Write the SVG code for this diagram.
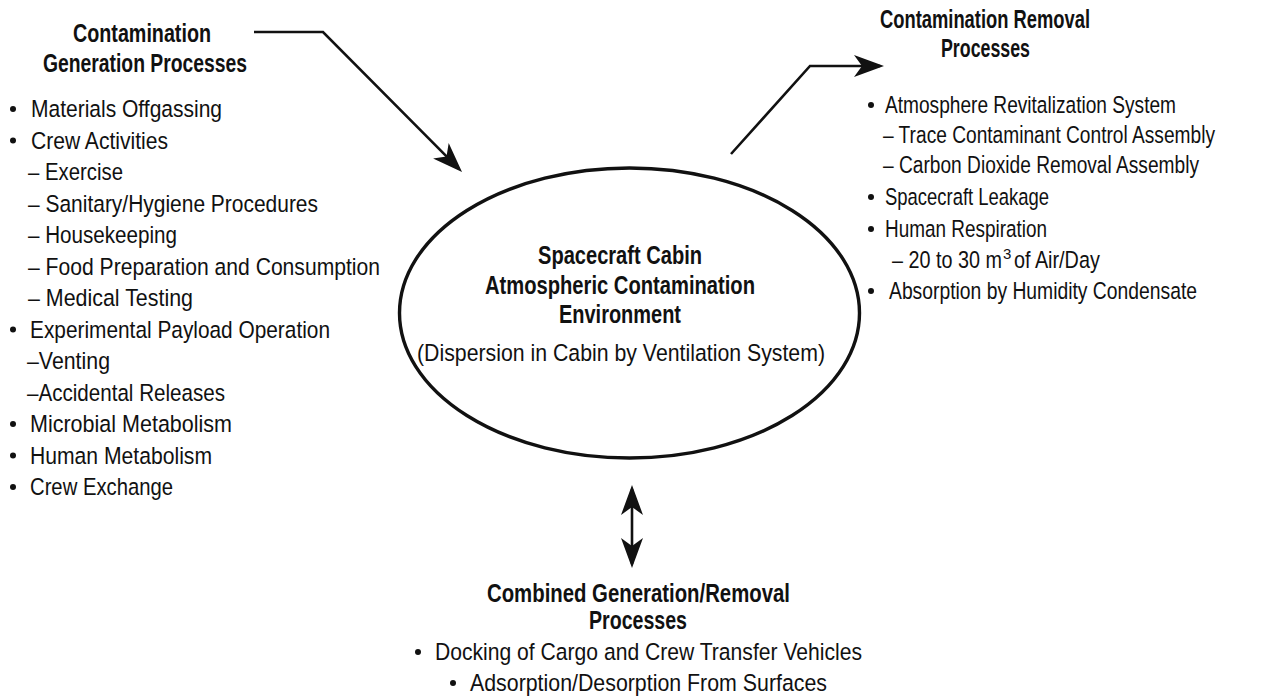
<svg xmlns="http://www.w3.org/2000/svg" width="1279" height="698" viewBox="0 0 1279 698">
<style>
  text { font-family: "Liberation Sans Narrow", "Liberation Sans", Arial, sans-serif; fill: #111; }
  .b { font-size: 24.5px; }
  .t { font-size: 25.5px; font-weight: bold; }
  .sup { font-size: 15px; }
  .dot { fill: #111; }
  .conn { fill: none; stroke: #111; stroke-width: 2.6; stroke-linejoin: miter; }
</style>
<defs>
  <marker id="ah" viewBox="-32 -13 34 26" refX="-4" refY="0" markerWidth="34" markerHeight="26" markerUnits="userSpaceOnUse" orient="auto-start-reverse">
    <path d="M0,0 L-30,-11 L-22,0 L-30,11 Z" fill="#111"/>
  </marker>
</defs>
<rect width="1279" height="698" fill="#fff"/>

<g id="cabin">
  <ellipse cx="629.5" cy="313" rx="230" ry="145" fill="none" stroke="#111" stroke-width="3.4"/>
  <text class="t" x="538" y="264" textLength="164" lengthAdjust="spacingAndGlyphs">Spacecraft Cabin</text>
  <text class="t" x="485" y="294" textLength="270" lengthAdjust="spacingAndGlyphs">Atmospheric Contamination</text>
  <text class="t" x="559" y="323" textLength="122" lengthAdjust="spacingAndGlyphs">Environment</text>
  <text class="b" x="417" y="361" textLength="408" lengthAdjust="spacingAndGlyphs">(Dispersion in Cabin by Ventilation System)</text>
</g>

<g id="generation">
  <text class="t" x="73" y="42" textLength="138" lengthAdjust="spacingAndGlyphs">Contamination</text>
  <text class="t" x="43" y="72" textLength="204" lengthAdjust="spacingAndGlyphs">Generation Processes</text>
  <circle class="dot" cx="13" cy="109" r="3"/>
  <text class="b" x="31" y="117" textLength="191" lengthAdjust="spacingAndGlyphs">Materials Offgassing</text>
  <circle class="dot" cx="13" cy="140.5" r="3"/>
  <text class="b" x="31" y="148.5" textLength="137" lengthAdjust="spacingAndGlyphs">Crew Activities</text>
  <text class="b" x="28" y="180" textLength="95" lengthAdjust="spacingAndGlyphs">– Exercise</text>
  <text class="b" x="28" y="211.5" textLength="290" lengthAdjust="spacingAndGlyphs">– Sanitary/Hygiene Procedures</text>
  <text class="b" x="28" y="243" textLength="149" lengthAdjust="spacingAndGlyphs">– Housekeeping</text>
  <text class="b" x="28" y="274.5" textLength="352" lengthAdjust="spacingAndGlyphs">– Food Preparation and Consumption</text>
  <text class="b" x="28" y="306" textLength="165" lengthAdjust="spacingAndGlyphs">– Medical Testing</text>
  <circle class="dot" cx="13" cy="329.5" r="3"/>
  <text class="b" x="30" y="337.5" textLength="300" lengthAdjust="spacingAndGlyphs">Experimental Payload Operation</text>
  <text class="b" x="27" y="369" textLength="83" lengthAdjust="spacingAndGlyphs">–Venting</text>
  <text class="b" x="27" y="400.5" textLength="198" lengthAdjust="spacingAndGlyphs">–Accidental Releases</text>
  <circle class="dot" cx="13" cy="424" r="3"/>
  <text class="b" x="30" y="432" textLength="202" lengthAdjust="spacingAndGlyphs">Microbial Metabolism</text>
  <circle class="dot" cx="13" cy="455.5" r="3"/>
  <text class="b" x="30" y="463.5" textLength="182" lengthAdjust="spacingAndGlyphs">Human Metabolism</text>
  <circle class="dot" cx="13" cy="487" r="3"/>
  <text class="b" x="30" y="495" textLength="143" lengthAdjust="spacingAndGlyphs">Crew Exchange</text>
</g>

<g id="removal">
  <text class="t" x="880" y="28" textLength="210" lengthAdjust="spacingAndGlyphs">Contamination Removal</text>
  <text class="t" x="941" y="57" textLength="89" lengthAdjust="spacingAndGlyphs">Processes</text>
  <circle class="dot" cx="871" cy="105" r="3"/>
  <text class="b" x="885" y="113" textLength="291" lengthAdjust="spacingAndGlyphs">Atmosphere Revitalization System</text>
  <text class="b" transform="translate(883,143) scale(0.8,1)" x="0" y="0" textLength="415" lengthAdjust="spacingAndGlyphs">– Trace Contaminant Control Assembly</text>
  <text class="b" transform="translate(883,173) scale(0.8,1)" x="0" y="0" textLength="395" lengthAdjust="spacingAndGlyphs">– Carbon Dioxide Removal Assembly</text>
  <circle class="dot" cx="871" cy="197" r="3"/>
  <text class="b" x="885" y="205" textLength="164" lengthAdjust="spacingAndGlyphs">Spacecraft Leakage</text>
  <circle class="dot" cx="871" cy="229" r="3"/>
  <text class="b" x="885" y="237" textLength="162" lengthAdjust="spacingAndGlyphs">Human Respiration</text>
  <text class="b" transform="translate(892,268) scale(0.78,1)" x="0" y="0" textLength="141" lengthAdjust="spacingAndGlyphs">– 20 to 30 m</text>
  <text class="sup" x="1003" y="259">3</text>
  <text class="b" transform="translate(1014,268) scale(0.78,1)" x="0" y="0" textLength="110" lengthAdjust="spacingAndGlyphs">of Air/Day</text>
  <circle class="dot" cx="871" cy="291" r="3"/>
  <text class="b" x="889" y="299" textLength="308" lengthAdjust="spacingAndGlyphs">Absorption by Humidity Condensate</text>
</g>

<g id="combined">
  <text class="t" x="487" y="602" textLength="303" lengthAdjust="spacingAndGlyphs">Combined Generation/Removal</text>
  <text class="t" x="589" y="629" textLength="98" lengthAdjust="spacingAndGlyphs">Processes</text>
  <circle class="dot" cx="418" cy="652" r="3"/>
  <text class="b" x="435" y="660" textLength="427" lengthAdjust="spacingAndGlyphs">Docking of Cargo and Crew Transfer Vehicles</text>
  <circle class="dot" cx="453" cy="683" r="3"/>
  <text class="b" x="470" y="691" textLength="357" lengthAdjust="spacingAndGlyphs">Adsorption/Desorption From Surfaces</text>
</g>

<g id="connectors">
  <polyline class="conn" points="254,32 323,32 459.2,169.2" marker-end="url(#ah)"/>
  <polyline class="conn" points="731,154 810,66 880,66" marker-end="url(#ah)"/>
  <line class="conn" x1="632" y1="489" x2="632" y2="564" marker-start="url(#ah)" marker-end="url(#ah)"/>
</g>
</svg>
